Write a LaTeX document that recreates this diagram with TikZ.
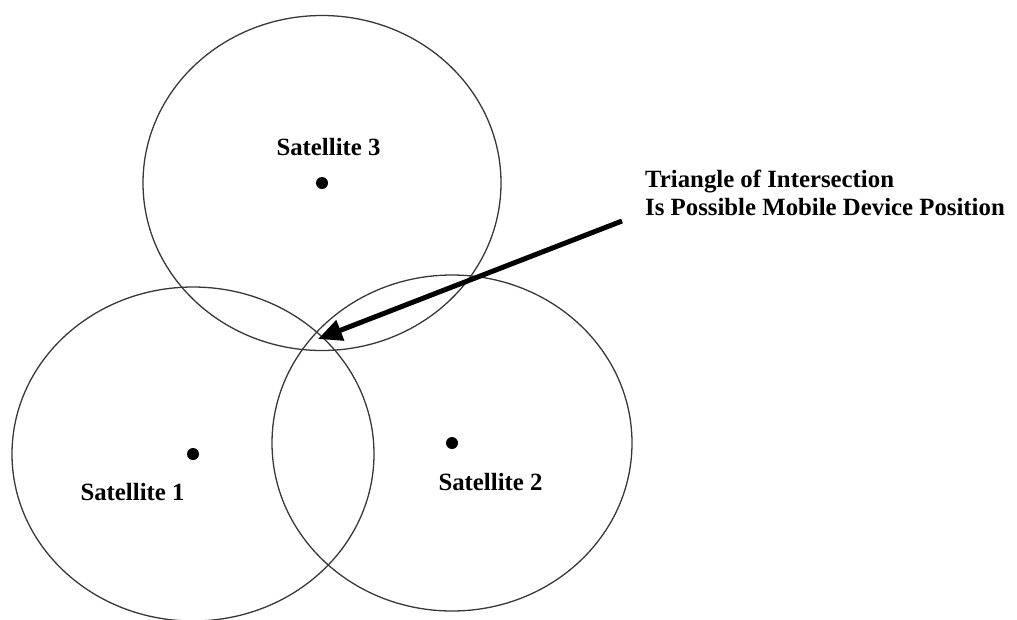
\documentclass[tikz,border=0pt]{standalone}
\usepackage{fontspec}
\setmainfont{Liberation Serif}
\usetikzlibrary{arrows.meta}
\begin{document}
\begin{tikzpicture}[x=1pt,y=-1pt,
  orbit/.style={draw=black!78,line width=1.3pt},
  satdot/.style={fill=black},
  lbl/.style={font=\fontsize{24.8}{28}\selectfont\bfseries,inner sep=0pt},
  pointer/.style={line width=5pt,-{Triangle[length=24pt,width=21pt]}}]
\useasboundingbox (0,0) rectangle (1017,619);
\coordinate (s3) at (322,183);
\coordinate (s1) at (193,454);
\coordinate (s2) at (452,443);
\draw[orbit] (s3) ellipse [x radius=179, y radius=167.5];
\draw[orbit] (s1) ellipse [x radius=181, y radius=167];
\draw[orbit] (s2) ellipse [x radius=180, y radius=168];
\fill[satdot] (s3) circle (6);
\fill[satdot] (s1) circle (6);
\fill[satdot] (s2) circle (6);
\node[lbl,anchor=base] (l3) at (328.5,155) {Satellite 3};
\node[lbl,anchor=base] (l1) at (132.5,500) {Satellite 1};
\node[lbl,anchor=base] (l2) at (490.5,490) {Satellite 2};
\node[lbl,anchor=base west] (t1) at (645,187) {Triangle of Intersection};
\node[lbl,anchor=base west] (t2) at (645,215) {Is Possible Mobile Device Position};
\coordinate (astart) at (622,221);
\coordinate (atip) at (318,339);
\draw[pointer] (astart) -- (atip);
\end{tikzpicture}
\end{document}
